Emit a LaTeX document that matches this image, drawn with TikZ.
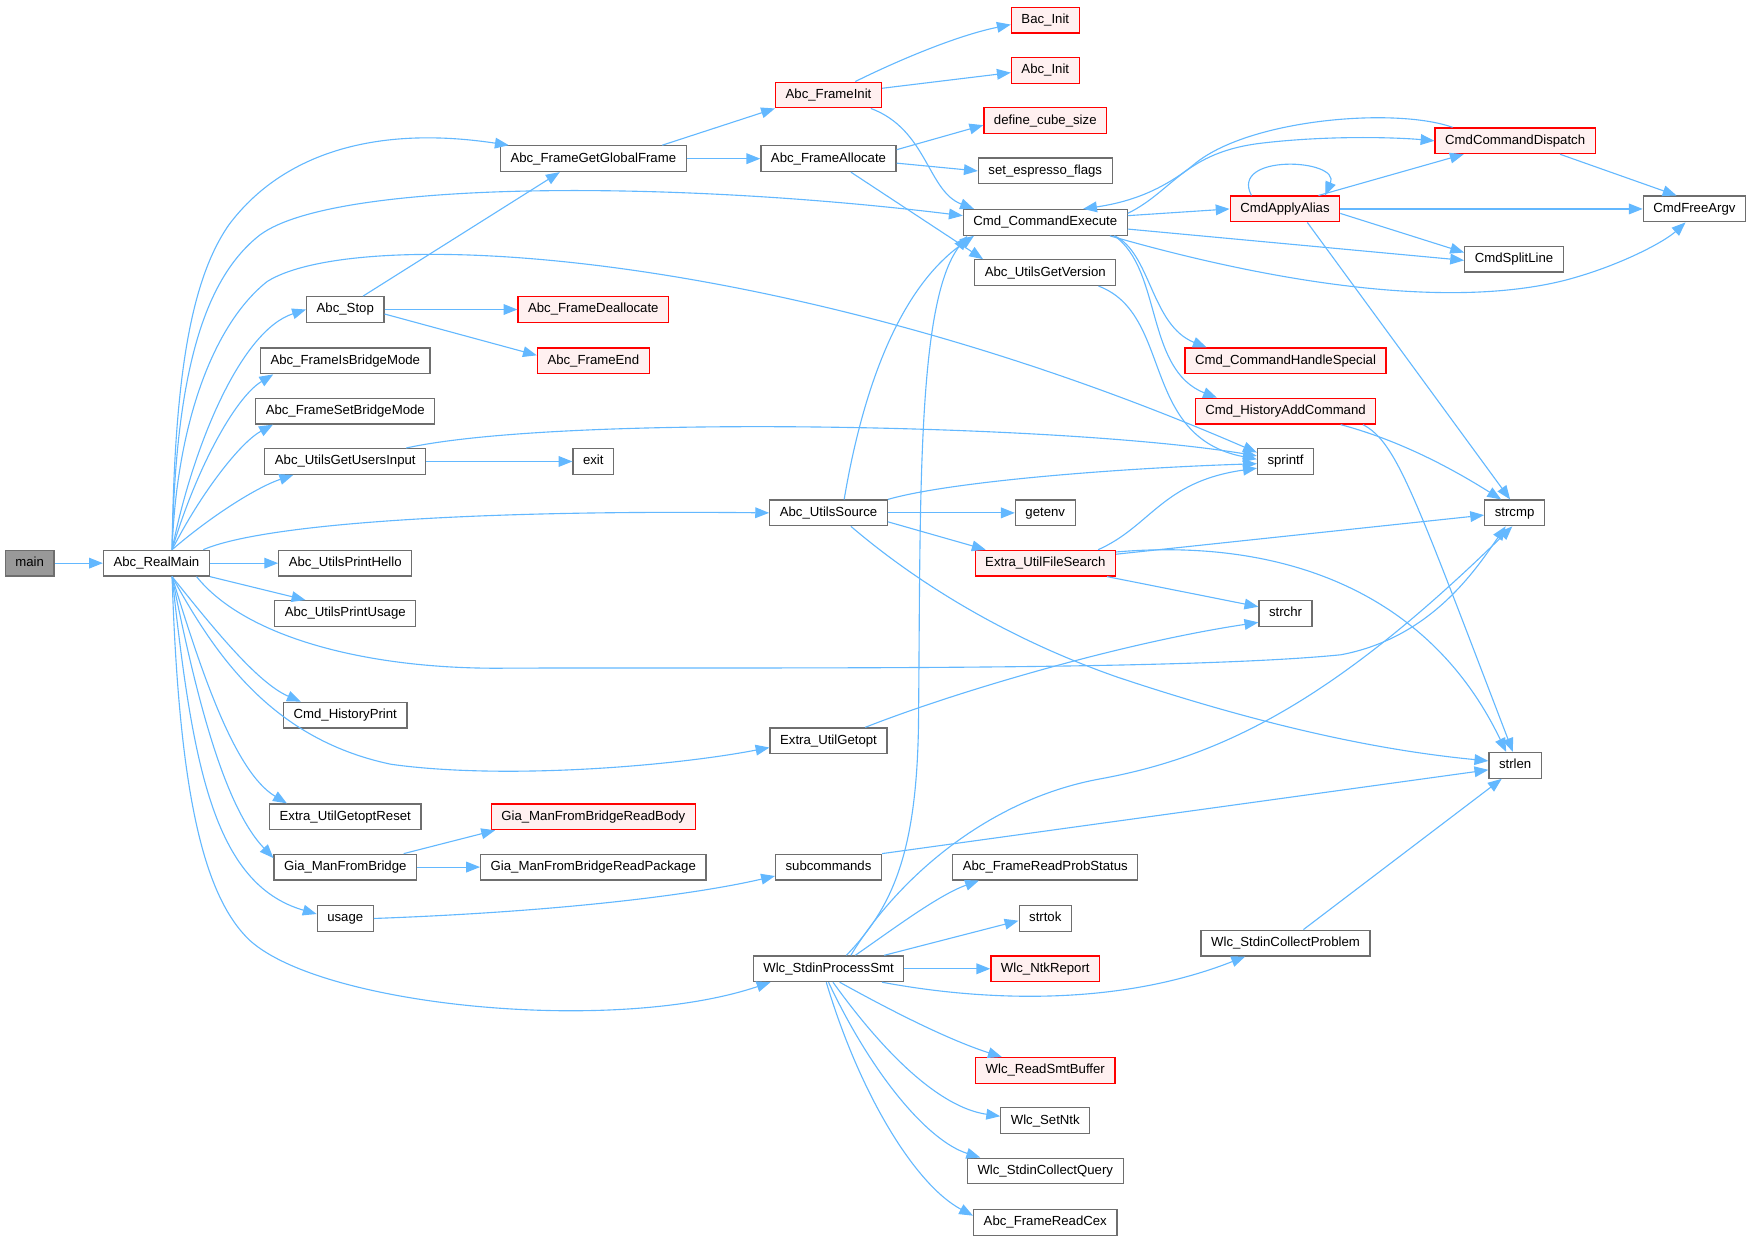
\documentclass[tikz,border=0pt]{standalone}
\usepackage{fontspec}
\setmainfont{Liberation Sans}
\usetikzlibrary{arrows.meta}
\definecolor{callblue}{RGB}{99,184,255}
\definecolor{boxgray}{RGB}{110,110,110}
\definecolor{rootgray}{RGB}{153,153,153}
\definecolor{hotred}{RGB}{255,0,0}
\definecolor{hotfill}{RGB}{255,240,240}

\begin{document}
\begin{tikzpicture}[x=0.5pt, y=-0.5pt,
	fn/.style={draw=boxgray, fill=white, line width=0.55pt, font=\fontsize{5.9}{7}\selectfont,
		inner xsep=4.5pt, inner ysep=3pt, text height=4.3pt, text depth=1.2pt},
	hot/.style={fn, draw=hotred, fill=hotfill},
	root/.style={fn, fill=rootgray},
	call/.style={draw=callblue, line width=0.5pt, -{Triangle[length=6.2pt,width=4.8pt]}}]

	\useasboundingbox (0,-1) rectangle (1568,1109);

	% callers on the left
	\node[root] (main) at (26.5,503) {main};
	\node[fn] (realmain) at (140,503) {Abc\_RealMain};

	% second column
	\node[fn] (abcstop) at (309,276) {Abc\_Stop};
	\node[fn] (isbridge) at (309,322) {Abc\_FrameIsBridgeMode};
	\node[fn] (setbridge) at (309,367) {Abc\_FrameSetBridgeMode};
	\node[fn] (usersinput) at (309,412) {Abc\_UtilsGetUsersInput};
	\node[fn] (printhello) at (309,503) {Abc\_UtilsPrintHello};
	\node[fn] (printusage) at (309,548) {Abc\_UtilsPrintUsage};
	\node[fn] (historyprint) at (309,639) {Cmd\_HistoryPrint};
	\node[fn] (getoptreset) at (309,730) {Extra\_UtilGetoptReset};
	\node[fn] (frombridge) at (309,775) {Gia\_ManFromBridge};
	\node[fn] (usage) at (309,821) {usage};

	% third column
	\node[fn] (getglobal) at (531,141) {Abc\_FrameGetGlobalFrame};
	\node[hot] (dealloc) at (531,276) {Abc\_FrameDeallocate};
	\node[hot] (frameend) at (531,322) {Abc\_FrameEnd};
	\node[fn] (exit) at (531,412) {exit};
	\node[hot] (readbody) at (531,730) {Gia\_ManFromBridgeReadBody};
	\node[fn] (readpackage) at (531,775) {Gia\_ManFromBridgeReadPackage};

	% fourth column
	\node[hot] (frameinit) at (741.5,84) {Abc\_FrameInit};
	\node[fn] (frameallocate) at (741.5,141) {Abc\_FrameAllocate};
	\node[fn] (utilssource) at (741.5,458) {Abc\_UtilsSource};
	\node[fn] (getopt) at (741.5,662) {Extra\_UtilGetopt};
	\node[fn] (subcommands) at (741.5,775) {subcommands};
	\node[fn] (processsmt) at (741.5,866) {Wlc\_StdinProcessSmt};

	% fifth column
	\node[hot] (bacinit) at (935.5,17) {Bac\_Init};
	\node[hot] (abcinit) at (935.5,62) {Abc\_Init};
	\node[hot] (cubesize) at (935.5,107) {define\_cube\_size};
	\node[fn] (espresso) at (935.5,152) {set\_espresso\_flags};
	\node[fn] (cmdexec) at (935.5,198) {Cmd\_CommandExecute};
	\node[fn] (getversion) at (935.5,243) {Abc\_UtilsGetVersion};
	\node[fn] (getenv) at (935.5,458) {getenv};
	\node[hot] (filesearch) at (935.5,503) {Extra\_UtilFileSearch};
	\node[fn] (probstatus) at (935.5,775) {Abc\_FrameReadProbStatus};
	\node[fn] (strtok) at (935.5,821) {strtok};
	\node[hot] (ntkreport) at (935.5,866) {Wlc\_NtkReport};
	\node[hot] (readsmt) at (935.5,957) {Wlc\_ReadSmtBuffer};
	\node[fn] (setntk) at (935.5,1002) {Wlc\_SetNtk};
	\node[fn] (collectquery) at (935.5,1047) {Wlc\_StdinCollectQuery};
	\node[fn] (readcex) at (935.5,1093) {Abc\_FrameReadCex};

	% sixth column
	\node[hot] (applyalias) at (1150,186) {CmdApplyAlias};
	\node[hot] (handlespecial) at (1150.5,322) {Cmd\_CommandHandleSpecial};
	\node[hot] (historyadd) at (1150.5,367) {Cmd\_HistoryAddCommand};
	\node[fn] (sprintf) at (1150.5,412) {sprintf};
	\node[fn] (strchr) at (1150.5,548) {strchr};
	\node[fn] (collectproblem) at (1150.5,843) {Wlc\_StdinCollectProblem};

	% right columns
	\node[hot] (dispatch) at (1356,125) {CmdCommandDispatch};
	\node[fn] (splitline) at (1355,231) {CmdSplitLine};
	\node[fn] (strcmp) at (1355.5,458) {strcmp};
	\node[fn] (strlen) at (1356,684) {strlen};
	\node[fn] (freeargv) at (1516.5,186) {CmdFreeArgv};

	\coordinate (rmtop) at ([xshift=7pt]realmain.north);
	\coordinate (rmbot) at ([xshift=7pt]realmain.south);

	% main
	\draw[call] (main) -- (realmain);

	% Abc_RealMain, upwards
	\draw[call] (rmtop) .. controls (156,340) and (170,250) .. (205,200)
		.. controls (250,140) and (330,110) .. ([xshift=4pt]getglobal.north west);
	\draw[call] (rmtop) .. controls (157,340) and (180,250) .. (233,209)
		.. controls (300,160) and (600,160) .. ([yshift=3pt]cmdexec.west);
	\draw[call] (rmtop) .. controls (158,380) and (190,290) .. (239,251)
		.. controls (320,200) and (700,220) .. ([yshift=4pt]sprintf.west);
	\draw[call] (rmtop) .. controls (172,400) and (215,295) .. (abcstop.west);
	\draw[call] (rmtop) .. controls (175,420) and (210,355) .. ([xshift=6pt]isbridge.south west);
	\draw[call] (rmtop) .. controls (180,440) and (215,395) .. ([xshift=8pt]setbridge.south west);
	\draw[call] (rmtop) .. controls (190,460) and (230,435) .. ([xshift=13pt]usersinput.south west);
	\draw[call] ([xshift=-3pt]realmain.north east) .. controls (230,470) and (400,455) .. (utilssource.west);

	% Abc_RealMain, sideways and downwards
	\draw[call] (realmain) -- (printhello);
	\draw[call] (realmain.south east) -- ([xshift=14pt]printusage.north west);
	\draw[call] ([xshift=-6pt]realmain.south east) .. controls (220,570) and (330,598) .. (450,597)
		.. controls (650,596) and (1050,600) .. (1200,585)
		.. controls (1280,570) and (1320,510) .. ([xshift=-4pt]strcmp.south);
	\draw[call] (rmbot) .. controls (190,560) and (230,610) .. ([xshift=8pt]historyprint.north west);
	\draw[call] (rmbot) .. controls (190,580) and (240,660) .. (350,683)
		.. controls (450,697) and (600,685) .. ([yshift=-3pt]getopt.west);
	\draw[call] (rmbot) .. controls (180,600) and (210,690) .. ([xshift=8pt]getoptreset.north west);
	\draw[call] (rmbot) .. controls (175,620) and (200,720) .. ([yshift=-2pt]frombridge.north west);
	\draw[call] (rmbot) .. controls (172,680) and (190,790) .. ([yshift=2pt]usage.west);
	\draw[call] (rmbot) .. controls (160,700) and (180,800) .. (224,841)
		.. controls (290,900) and (550,925) .. ([xshift=8pt]processsmt.south west);

	% Abc_FrameGetGlobalFrame and Abc_Stop
	\draw[call] ([xshift=-11pt]getglobal.north east) -- (frameinit.south west);
	\draw[call] (getglobal) -- (frameallocate);
	\draw[call] ([xshift=8pt]abcstop.north) -- ([xshift=-15pt]getglobal.south);
	\draw[call] (abcstop) -- (dealloc);
	\draw[call] ([yshift=-2pt]abcstop.east) -- ([yshift=2.5pt]frameend.west);

	% second column, the rest
	\draw[call] ([xshift=-9pt]usersinput.north east) .. controls (500,370) and (950,378) .. ([yshift=2.5pt]sprintf.west);
	\draw[call] (usersinput) -- (exit);
	\draw[call] ([xshift=-6pt]frombridge.north east) -- ([xshift=2pt]readbody.south west);
	\draw[call] (frombridge) -- (readpackage);
	\draw[call] (usage.east) .. controls (500,815) and (620,800) .. ([yshift=-4pt]subcommands.west);

	% Abc_FrameInit and Abc_FrameAllocate
	\draw[call] ([xshift=12pt]frameinit.north) .. controls (810,50) and (860,30) .. ([yshift=-2pt]bacinit.west);
	\draw[call] ([yshift=3pt]frameinit.east) -- ([yshift=-1pt]abcinit.west);
	\draw[call] ([xshift=-5pt]frameinit.south east) .. controls (830,115) and (830,170) .. ([xshift=5pt]cmdexec.north west);
	\draw[call] ([yshift=-2pt]frameallocate.north east) -- ([yshift=-2pt]cubesize.west);
	\draw[call] ([yshift=-2pt]frameallocate.east) -- (espresso.west);
	\draw[call] ([xshift=10pt]frameallocate.south) -- ([xshift=4pt]getversion.north west);

	% Abc_UtilsSource
	\draw[call] ([xshift=7pt]utilssource.north) .. controls (770,360) and (800,260) .. ([xshift=5pt]cmdexec.south west);
	\draw[call] (utilssource.north east) .. controls (850,430) and (1000,418) .. ([yshift=-1pt]sprintf.west);
	\draw[call] (utilssource) -- (getenv);
	\draw[call] ([yshift=-4pt]utilssource.east) -- ([xshift=5pt]filesearch.north west);
	\draw[call] ([xshift=10pt]utilssource.south) .. controls (820,520) and (900,570) .. (1000,605)
		.. controls (1150,655) and (1250,672) .. ([yshift=2pt]strlen.west);

	% Extra_UtilGetopt and subcommands
	\draw[call] ([xshift=-10pt]getopt.north east) .. controls (850,620) and (1000,575) .. ([yshift=-4pt]strchr.west);
	\draw[call] (subcommands.north east) -- ([yshift=-2pt]strlen.west);

	% Wlc_StdinProcessSmt
	\draw[call] ([xshift=8pt]processsmt.north) .. controls (800,810) and (820,760) .. (822,650)
		.. controls (824,450) and (820,270) .. ([xshift=2pt]cmdexec.south west);
	\draw[call] ([xshift=10pt]processsmt.north) .. controls (800,790) and (880,715) .. (985,696)
		.. controls (1100,675) and (1200,620) .. ([xshift=-1pt]strcmp.south);
	\draw[call] ([xshift=12pt]processsmt.north) .. controls (800,830) and (840,800) .. ([xshift=12pt]probstatus.south west);
	\draw[call] ([xshift=-9pt]processsmt.north east) -- ([yshift=-1pt]strtok.west);
	\draw[call] (processsmt) -- (ntkreport);
	\draw[call] ([xshift=-10pt]processsmt.south east) .. controls (880,895) and (1000,900) .. ([xshift=20pt]collectproblem.south west);
	\draw[call] ([xshift=5pt]processsmt.south) .. controls (800,905) and (850,930) .. ([xshift=12pt]readsmt.north west);
	\draw[call] ([xshift=2pt]processsmt.south) .. controls (790,940) and (840,990) .. ([yshift=2pt]setntk.west);
	\draw[call] (processsmt.south) .. controls (780,960) and (830,1020) .. ([xshift=6pt]collectquery.north west);
	\draw[call] ([xshift=-1pt]processsmt.south) .. controls (770,980) and (820,1060) .. ([yshift=3pt]readcex.west);

	% Cmd_CommandExecute
	\draw[call] ([yshift=3pt]cmdexec.east) -- (applyalias.west);
	\draw[call] ([yshift=-2pt]cmdexec.north east) .. controls (1050,170) and (1060,135) .. (1130,127)
		.. controls (1190,120) and (1250,122) .. (dispatch.west);
	\draw[call] ([yshift=-3pt]cmdexec.east) -- ([yshift=-0.5pt]splitline.west);
	\draw[call] ([xshift=-8pt]cmdexec.south east) .. controls (1150,255) and (1300,275) .. (1400,250)
		.. controls (1450,237) and (1490,215) .. ([xshift=-4pt]freeargv.south);
	\draw[call] ([xshift=-6pt]cmdexec.south east) .. controls (1030,225) and (1030,290) .. ([xshift=10pt]handlespecial.north west);
	\draw[call] ([xshift=-6pt]cmdexec.south east) .. controls (1040,240) and (1025,330) .. ([xshift=10pt]historyadd.north west);

	% CmdCommandDispatch and CmdApplyAlias
	\draw[call] ([xshift=-28pt]dispatch.north) .. controls (1250,95) and (1120,105) .. (1070,145)
		.. controls (1040,170) and (1010,180) .. ([xshift=-20pt]cmdexec.north east);
	\draw[call] ([xshift=-16pt]dispatch.south east) -- ([xshift=-8pt]freeargv.north);
	\draw[call] ([xshift=-15pt]applyalias.north) .. controls (1100,136) and (1200,141) .. ([xshift=18pt]applyalias.north);
	\draw[call] ([xshift=15pt]applyalias.north) -- ([xshift=-23pt]dispatch.south);
	\draw[call] (applyalias) -- (freeargv);
	\draw[call] ([yshift=-2pt]applyalias.east) -- ([yshift=3pt]splitline.west);
	\draw[call] ([xshift=10pt]applyalias.south) -- ([xshift=-2pt]strcmp.north);

	% leaves of the right half
	\draw[call] ([xshift=-8pt]getversion.south east) .. controls (1050,280) and (1020,390) .. ([yshift=1pt]sprintf.west);
	\draw[call] ([xshift=-16pt]historyadd.south east) .. controls (1260,395) and (1310,425) .. ([xshift=-6pt]strcmp.north);
	\draw[call] ([xshift=-6pt]historyadd.south east) .. controls (1250,395) and (1265,440) .. ([xshift=-1pt]strlen.north);
	\draw[call] ([xshift=-8pt]filesearch.north east) .. controls (1030,470) and (1040,430) .. ([yshift=-3pt]sprintf.west);
	\draw[call] ([yshift=4pt]filesearch.east) -- ([yshift=-1pt]strcmp.west);
	\draw[call] ([xshift=-4pt]filesearch.south east) -- ([yshift=3pt]strchr.west);
	\draw[call] ([yshift=5pt]filesearch.east) .. controls (1150,480) and (1280,530) .. ([xshift=-4pt]strlen.north);
	\draw[call] ([xshift=8pt]collectproblem.north) -- ([xshift=-6pt]strlen.south);

\end{tikzpicture}
\end{document}
